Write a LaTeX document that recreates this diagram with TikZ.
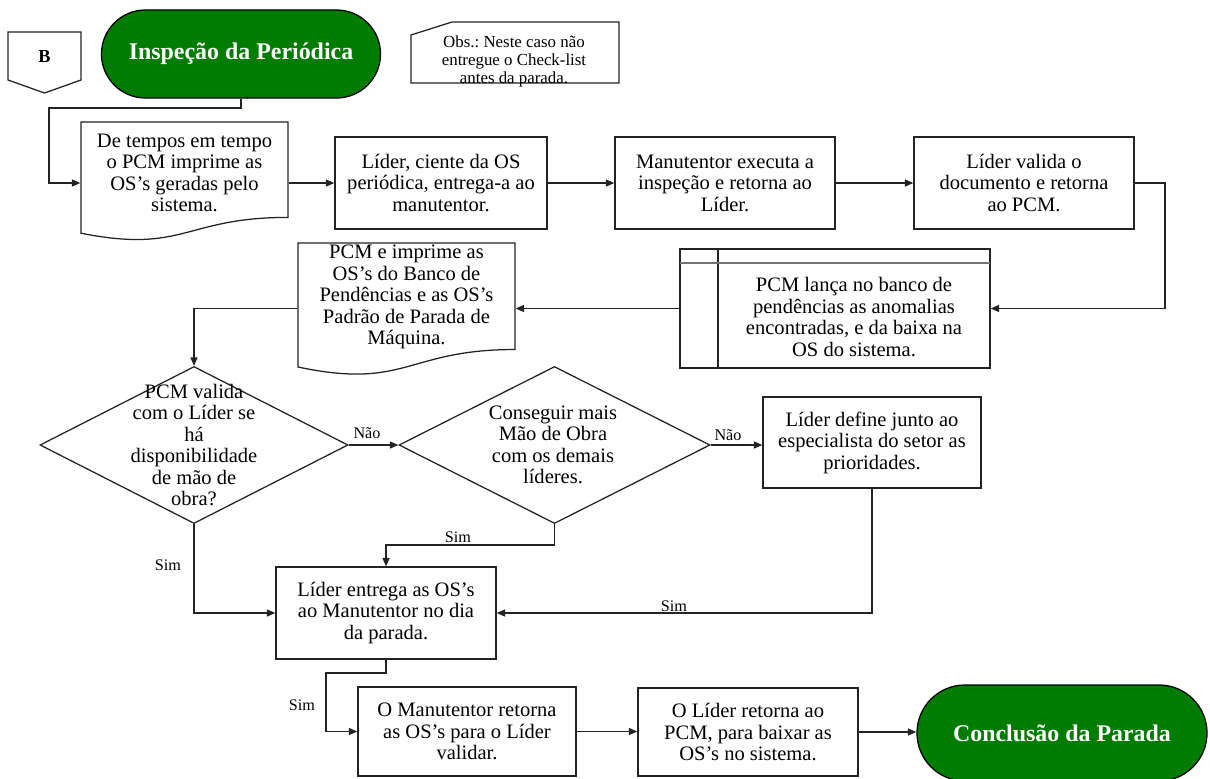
\documentclass[tikz,border=0pt]{standalone}
\usepackage{fontspec}
\setmainfont{Liberation Serif}
\usetikzlibrary{shapes.geometric,arrows.meta}
\definecolor{flowgreen}{RGB}{0,125,0}
\definecolor{linegray}{RGB}{35,35,35}
\frenchspacing
\begin{document}
\begin{tikzpicture}[x=0.025cm,y=-0.025cm,
  font=\fontsize{14.6}{15.3}\selectfont,
  line width=0.9pt,
  box/.style={draw=linegray, rectangle, inner sep=0pt, align=center},
  term/.style={draw=black, fill=flowgreen, text=white, inner sep=0pt, align=center,
    font=\fontsize{17}{20}\selectfont\bfseries},
  txt/.style={inner sep=0pt, align=center},
  decision/.style={draw=linegray, diamond, inner sep=0pt},
  lbl/.style={inner sep=0pt, font=\fontsize{11.5}{13}\selectfont},
  arr/.style={draw=linegray, -{Triangle[length=6pt,width=5pt]}},
  wire/.style={draw=linegray}
]
\useasboundingbox (0,0) rectangle (1210,778);

% off-page connector B
\draw[linegray] (8,32) -- (81,32) -- (81,80) -- (44.5,93) -- (8,80) -- cycle;
\node[txt, font=\fontsize{13}{15}\selectfont\bfseries] (b) at (44.5,57) {B};

% terminators
\node[term, minimum width=6.975cm, minimum height=2.2cm, rounded corners=1.1cm]
  (start) at (241,54) {Inspeção da Periódica};
\node[term, minimum width=7.25cm, minimum height=2.4cm, rounded corners=1.2cm]
  (concl) at (1062,733) {Conclusão da Parada};

% note card
\draw[linegray] (411,35) -- (452,22) -- (619,22) -- (619,83) -- (411,83) -- cycle;
\node[txt, font=\fontsize{12}{12.8}\selectfont] (obs) at (514,61)
  {Obs.: Neste caso não\\entregue o Check-list\\antes da parada.};

% document shapes
\draw[linegray] (81,122) -- (288,122) -- (288,217.4)
  .. controls (184.5,217.4) and (184.5,253.8) .. (81,233.2) -- cycle;
\node[txt, minimum width=5.175cm, minimum height=2.55cm] (doc1) at (184.5,173)
  {De tempos em tempo\\o PCM imprime as\\OS’s geradas pelo\\sistema.};

\draw[linegray] (298,243) -- (515,243) -- (515,349.5)
  .. controls (406.5,349.5) and (406.5,390) .. (298,367) -- cycle;
\node[txt, minimum width=5.425cm, minimum height=2.7cm] (doc2) at (406.5,297)
  {PCM e imprime as\\OS’s do Banco de\\Pendências e as OS’s\\Padrão de Parada de\\Máquina.};

% process boxes, top row
\node[box, minimum width=5.3cm, minimum height=2.3cm] (lider1) at (441,183)
  {Líder, ciente da OS\\periódica, entrega-a ao\\manutentor.};
\node[box, minimum width=5.5cm, minimum height=2.3cm] (manut1) at (725,183)
  {Manutentor executa a\\inspeção e retorna ao\\Líder.};
\node[box, minimum width=5.5cm, minimum height=2.3cm] (valida) at (1024,183)
  {Líder valida o\\documento e retorna\\ao PCM.};

% internal storage
\node[box, minimum width=7.75cm, minimum height=2.975cm] (storage) at (835,308.5) {};
\draw[linegray] (718,249) -- (718,368);
\draw[black!55, line width=1.5pt] (680,263) -- (990,263);
\node[txt] (storagetxt) at (854,317)
  {PCM lança no banco de\\pendências as anomalias\\encontradas, e da baixa na\\OS do sistema.};

% decisions
\node[decision, minimum width=7.7cm, minimum height=3.925cm] (dia1) at (194,445) {};
\node[txt] (dia1t) at (194,445)
  {PCM valida\\com o Líder se\\há\\disponibilidade\\de mão de\\obra?};
\node[decision, minimum width=7.775cm, minimum height=3.925cm] (dia2) at (554.5,445) {};
\node[txt] (dia2t) at (553,445)
  {Conseguir mais\\Mão de Obra\\com os demais\\líderes.};

\node[box, minimum width=5.45cm, minimum height=2.275cm] (def) at (872,442.5)
  {Líder define junto ao\\especialista do setor as\\prioridades.};
\node[box, minimum width=5.5cm, minimum height=2.3cm] (entrega) at (386,613)
  {Líder entrega as OS’s\\ao Manutentor no dia\\da parada.};
\node[box, minimum width=5.45cm, minimum height=2.225cm] (omanut) at (467,731.5)
  {O Manutentor retorna\\as OS’s para o Líder\\validar.};
\node[box, minimum width=5.5cm, minimum height=2.2cm] (olider) at (748,732)
  {O Líder retorna ao\\PCM, para baixar as\\OS’s no sistema.};

% bend points
\coordinate (c1) at (49,108);
\coordinate (c2) at (1165,183);
\coordinate (c3) at (554.5,545);
\coordinate (c4) at (326,673);

% connectors
\draw[arr] (start.south) |- (c1) |- (lider1.west -| doc1.west);
\draw[arr] (lider1.west -| doc1.east) -- (lider1.west);
\draw[arr] (lider1.east) -- (manut1.west);
\draw[arr] (manut1.east) -- (valida.west);
\draw[arr] (valida.east) -- (c2) |- (storage.east);
\draw[arr] (storage.west) -- (storage.west -| doc2.east);
\draw[arr] (storage.west -| doc2.west) -| (dia1.north);
\draw[arr] (dia1.east) -- (dia2.west);
\draw[arr] (dia2.east) -- (dia2.east -| def.west);
\draw[arr] (dia1.south) |- (entrega.west);
\draw[arr] (dia2.south) -- (c3) -| (entrega.north);
\draw[arr] (def.south) |- (entrega.east);
\draw[arr] (entrega.south) |- (c4) |- (omanut.west);
\draw[arr] (omanut.east) -- (omanut.east -| olider.west);
\draw[arr] (olider.east) -- (olider.east -| concl.west);

% connector labels
\node[lbl] (nao1) at (367,433) {Não};
\node[lbl] (nao2) at (728,435) {Não};
\node[lbl] (sim1) at (168,565) {Sim};
\node[lbl] (sim2) at (458,537) {Sim};
\node[lbl] (sim3) at (674,606) {Sim};
\node[lbl] (sim4) at (302,705) {Sim};
\end{tikzpicture}
\end{document}
